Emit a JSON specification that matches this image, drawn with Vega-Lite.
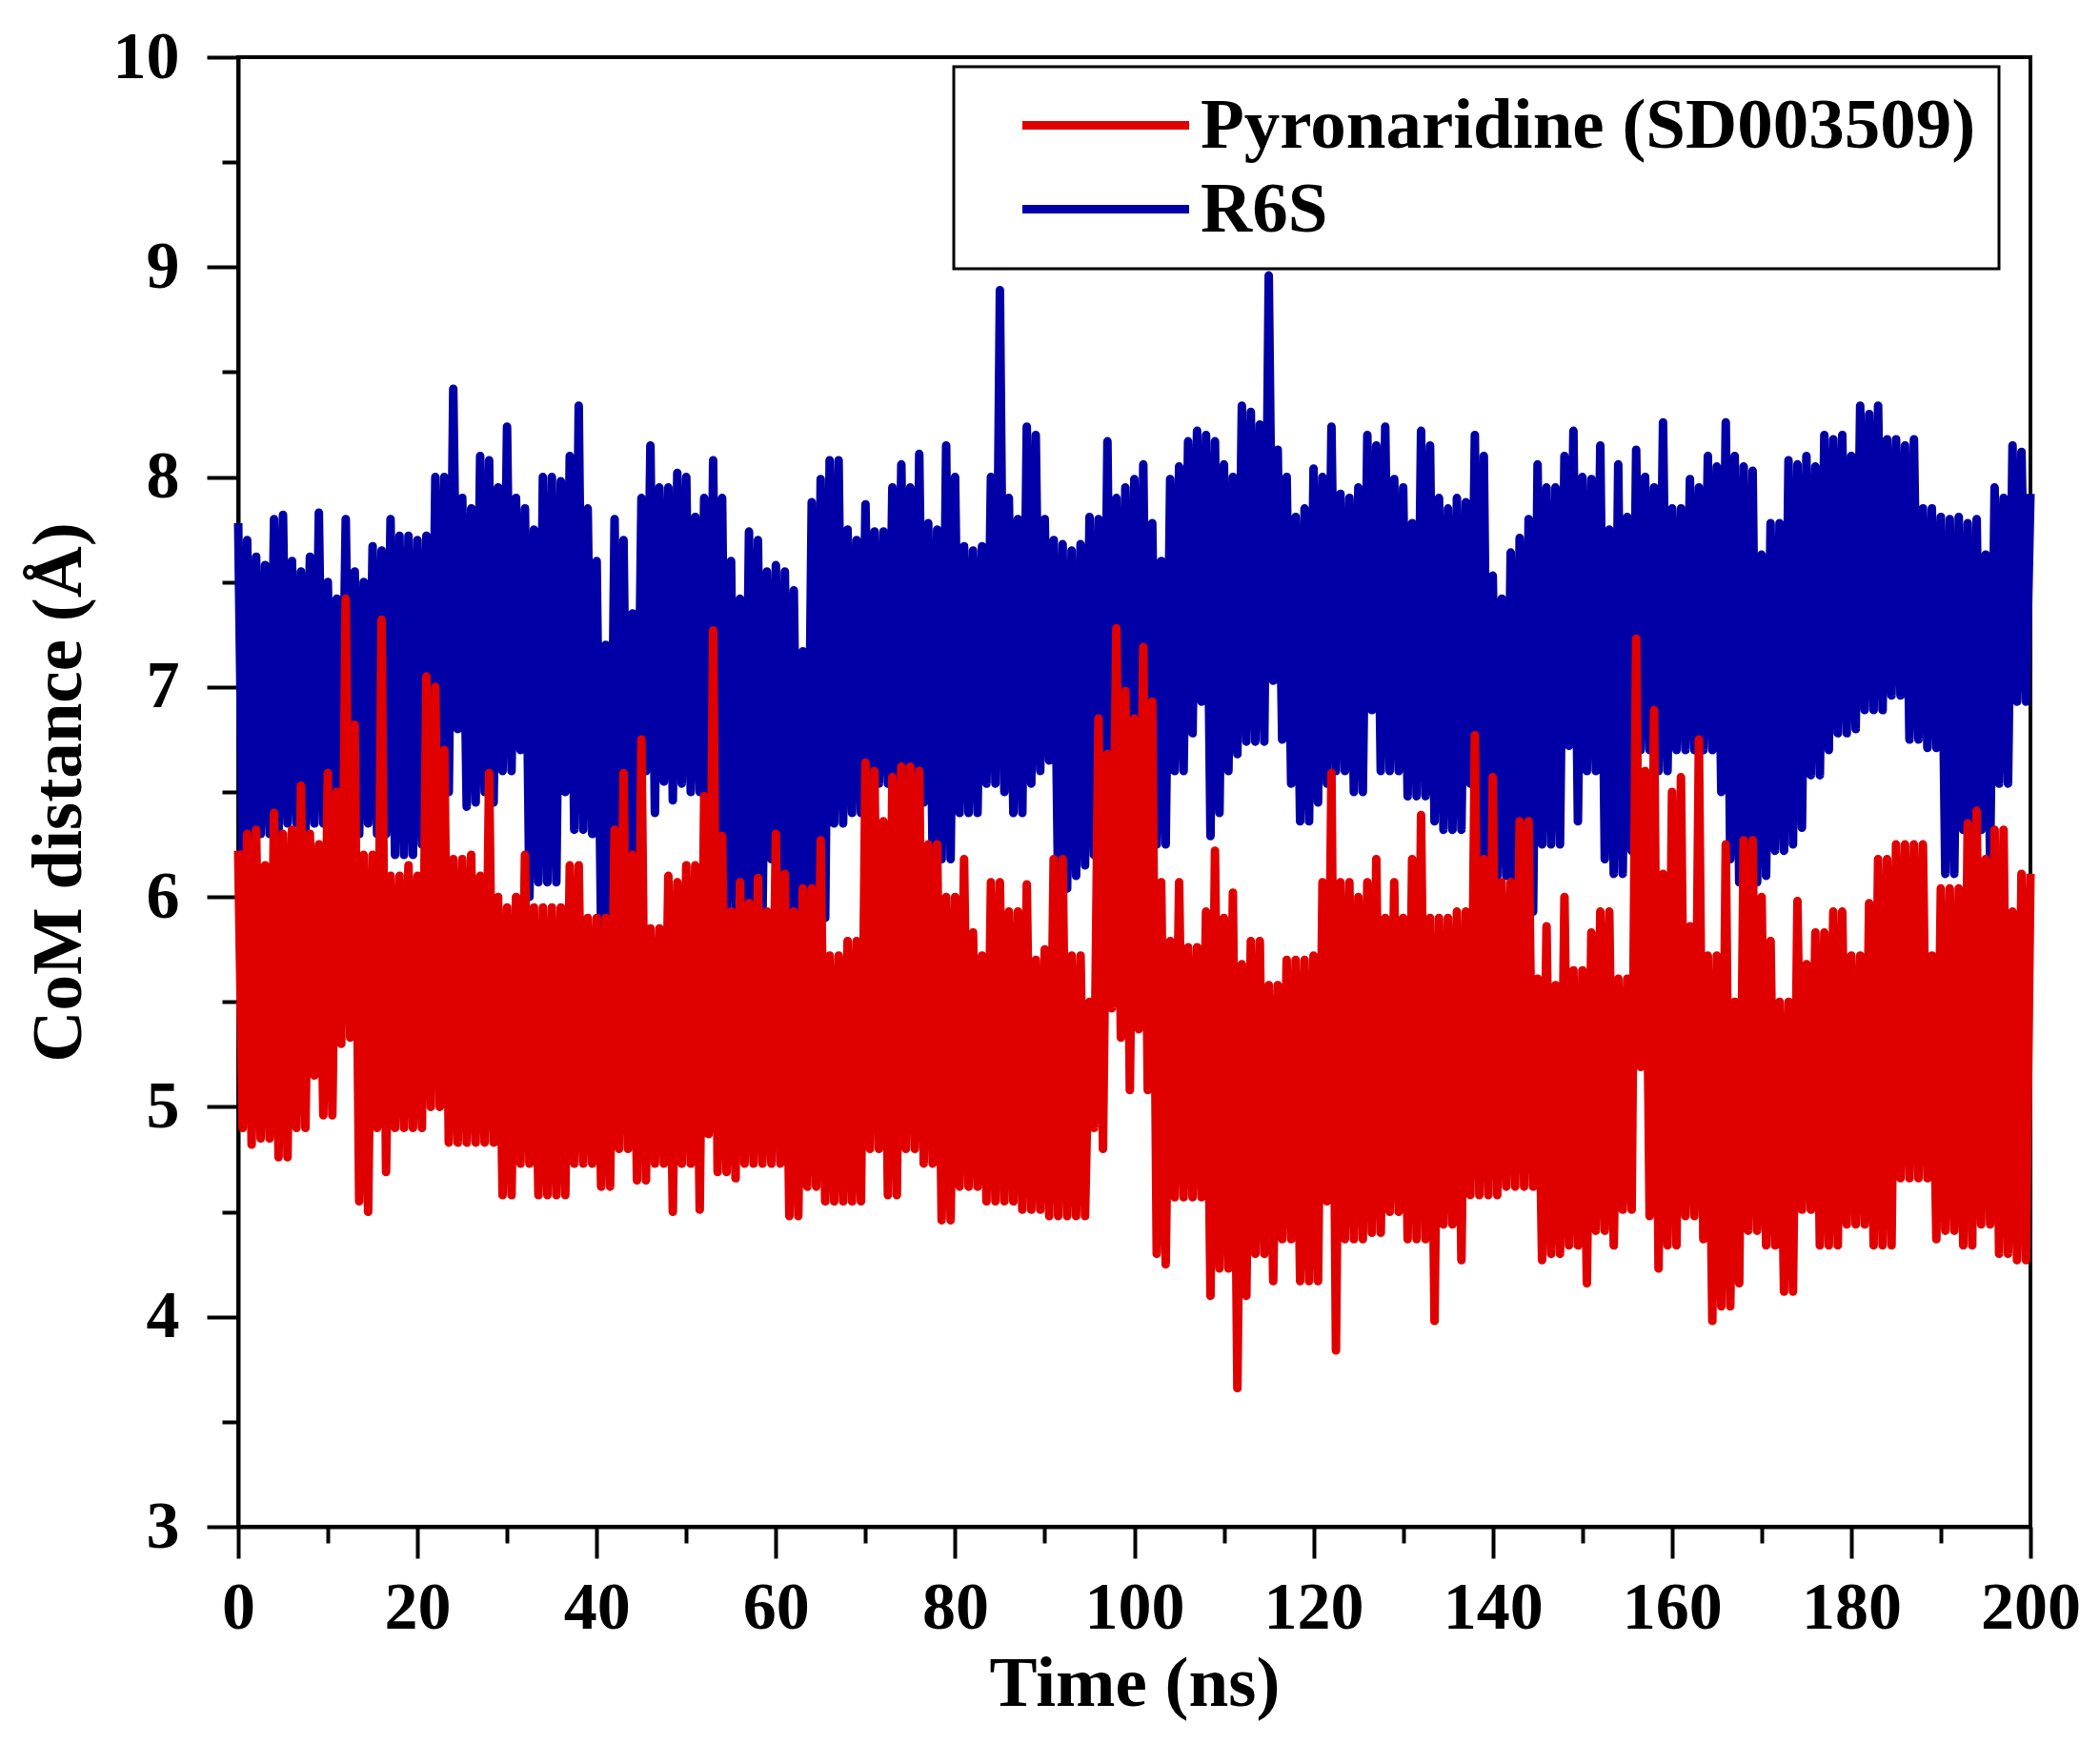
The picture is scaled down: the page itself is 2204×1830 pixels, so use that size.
{
  "$schema": "https://vega.github.io/schema/vega-lite/v6.json",
  "width": 1881,
  "height": 1542,
  "autosize": {"type": "none"},
  "padding": {"left": 250, "top": 60, "right": 73, "bottom": 228},
  "background": "white",
  "config": {
    "font": "Liberation Serif",
    "view": {"stroke": "black", "strokeWidth": 4},
    "axis": {
      "grid": false,
      "domainColor": "black",
      "domainWidth": 4,
      "tickColor": "black",
      "tickWidth": 4,
      "labelFont": "Liberation Serif",
      "labelFontWeight": "bold",
      "labelFontSize": 70,
      "labelColor": "black",
      "labelOverlap": false,
      "labelFlush": false,
      "titleFont": "Liberation Serif",
      "titleFontWeight": "bold",
      "titleFontSize": 75,
      "titleColor": "black"
    },
    "legend": {"strokeWidth": 3}
  },
  "data": {
    "values": [
      {"t":0,"p":6.22,"r":7.78},{"t":0.5,"p":4.9,"r":6.2},
      {"t":1,"p":6.3,"r":7.7},{"t":1.5,"p":4.82,"r":6.25},
      {"t":2,"p":6.32,"r":7.62},{"t":2.5,"p":4.85,"r":6.3},
      {"t":3,"p":6.15,"r":7.58},{"t":3.5,"p":4.85,"r":6.3},
      {"t":4,"p":6.4,"r":7.8},{"t":4.5,"p":4.76,"r":6.3},
      {"t":5,"p":6.3,"r":7.82},{"t":5.5,"p":4.76,"r":6.35},
      {"t":6,"p":6.32,"r":7.6},{"t":6.5,"p":4.9,"r":6.35},
      {"t":7,"p":6.53,"r":7.55},{"t":7.5,"p":4.9,"r":6.3},
      {"t":8,"p":6.3,"r":7.62},{"t":8.5,"p":5.15,"r":6.35},
      {"t":9,"p":6.25,"r":7.83},{"t":9.5,"p":4.96,"r":6.35},
      {"t":10,"p":6.59,"r":7.5},{"t":10.5,"p":4.96,"r":6.35},
      {"t":11,"p":6.5,"r":7.42},{"t":11.5,"p":5.3,"r":6.35},
      {"t":12,"p":7.42,"r":7.8},{"t":12.5,"p":5.33,"r":6.3},
      {"t":13,"p":6.82,"r":7.55},{"t":13.5,"p":4.55,"r":6.3},
      {"t":14,"p":6.2,"r":7.5},{"t":14.5,"p":4.5,"r":6.35},
      {"t":15,"p":6.2,"r":7.67},{"t":15.5,"p":4.9,"r":6.3},
      {"t":16,"p":7.32,"r":7.65},{"t":16.5,"p":4.69,"r":6.3},
      {"t":17,"p":6.1,"r":7.8},{"t":17.5,"p":4.9,"r":6.2},
      {"t":18,"p":6.1,"r":7.72},{"t":18.5,"p":4.9,"r":6.2},
      {"t":19,"p":6.15,"r":7.72},{"t":19.5,"p":4.9,"r":6.2},
      {"t":20,"p":6.1,"r":7.7},{"t":20.5,"p":4.9,"r":6.25},
      {"t":21,"p":7.05,"r":7.72},{"t":21.5,"p":5.0,"r":6.2},
      {"t":22,"p":7.0,"r":8.0},{"t":22.5,"p":5.0,"r":6.4},
      {"t":23,"p":6.7,"r":8.0},{"t":23.5,"p":4.83,"r":6.5},
      {"t":24,"p":6.18,"r":8.42},{"t":24.5,"p":4.83,"r":6.8},
      {"t":25,"p":6.18,"r":7.9},{"t":25.5,"p":4.83,"r":6.43},
      {"t":26,"p":6.2,"r":7.85},{"t":26.5,"p":4.83,"r":6.45},
      {"t":27,"p":6.1,"r":8.1},{"t":27.5,"p":4.83,"r":6.5},
      {"t":28,"p":6.59,"r":8.08},{"t":28.5,"p":4.83,"r":6.45},
      {"t":29,"p":6.0,"r":7.95},{"t":29.5,"p":4.58,"r":6.6},
      {"t":30,"p":5.95,"r":8.24},{"t":30.5,"p":4.58,"r":6.6},
      {"t":31,"p":6.0,"r":7.9},{"t":31.5,"p":4.73,"r":6.7},
      {"t":32,"p":6.2,"r":7.85},{"t":32.5,"p":4.73,"r":6.0},
      {"t":33,"p":5.95,"r":7.75},{"t":33.5,"p":4.58,"r":6.07},
      {"t":34,"p":5.95,"r":8.0},{"t":34.5,"p":4.58,"r":6.07},
      {"t":35,"p":5.95,"r":8.0},{"t":35.5,"p":4.58,"r":6.07},
      {"t":36,"p":5.95,"r":7.98},{"t":36.5,"p":4.58,"r":6.5},
      {"t":37,"p":6.15,"r":8.1},{"t":37.5,"p":4.73,"r":6.32},
      {"t":38,"p":6.15,"r":8.34},{"t":38.5,"p":4.73,"r":6.32},
      {"t":39,"p":5.9,"r":7.85},{"t":39.5,"p":4.73,"r":6.3},
      {"t":40,"p":5.9,"r":7.6},{"t":40.5,"p":4.62,"r":5.83},
      {"t":41,"p":5.9,"r":7.2},{"t":41.5,"p":4.62,"r":5.85},
      {"t":42,"p":6.32,"r":7.8},{"t":42.5,"p":4.8,"r":5.93},
      {"t":43,"p":6.59,"r":7.7},{"t":43.5,"p":4.8,"r":5.93},
      {"t":44,"p":6.2,"r":7.35},{"t":44.5,"p":4.65,"r":6.2},
      {"t":45,"p":6.75,"r":7.9},{"t":45.5,"p":4.65,"r":6.6},
      {"t":46,"p":5.85,"r":8.15},{"t":46.5,"p":4.73,"r":6.4},
      {"t":47,"p":5.85,"r":7.95},{"t":47.5,"p":4.73,"r":6.55},
      {"t":48,"p":6.1,"r":7.95},{"t":48.5,"p":4.5,"r":6.46},
      {"t":49,"p":6.07,"r":8.02},{"t":49.5,"p":4.73,"r":6.54},
      {"t":50,"p":6.15,"r":8.0},{"t":50.5,"p":4.73,"r":6.5},
      {"t":51,"p":6.15,"r":7.81},{"t":51.5,"p":4.51,"r":6.5},
      {"t":52,"p":6.48,"r":7.9},{"t":52.5,"p":4.87,"r":5.97},
      {"t":53,"p":7.27,"r":8.08},{"t":53.5,"p":4.69,"r":5.97},
      {"t":54,"p":6.29,"r":7.9},{"t":54.5,"p":4.69,"r":5.93},
      {"t":55,"p":5.93,"r":7.6},{"t":55.5,"p":4.66,"r":5.9},
      {"t":56,"p":6.07,"r":7.42},{"t":56.5,"p":4.73,"r":5.9},
      {"t":57,"p":5.97,"r":7.74},{"t":57.5,"p":4.73,"r":5.9},
      {"t":58,"p":6.09,"r":7.7},{"t":58.5,"p":4.73,"r":5.9},
      {"t":59,"p":5.93,"r":7.55},{"t":59.5,"p":4.73,"r":6.18},
      {"t":60,"p":6.3,"r":7.58},{"t":60.5,"p":4.73,"r":5.95},
      {"t":61,"p":6.11,"r":7.55},{"t":61.5,"p":4.48,"r":5.95},
      {"t":62,"p":5.93,"r":7.46},{"t":62.5,"p":4.48,"r":5.85},
      {"t":63,"p":6.04,"r":7.17},{"t":63.5,"p":4.62,"r":5.85},
      {"t":64,"p":6.04,"r":7.88},{"t":64.5,"p":4.62,"r":5.9},
      {"t":65,"p":6.27,"r":7.99},{"t":65.5,"p":4.55,"r":5.9},
      {"t":66,"p":5.72,"r":8.08},{"t":66.5,"p":4.55,"r":6.35},
      {"t":67,"p":5.72,"r":8.08},{"t":67.5,"p":4.55,"r":6.35},
      {"t":68,"p":5.79,"r":7.75},{"t":68.5,"p":4.55,"r":6.4},
      {"t":69,"p":5.79,"r":7.7},{"t":69.5,"p":4.55,"r":6.4},
      {"t":70,"p":6.64,"r":7.87},{"t":70.5,"p":4.8,"r":6.54},
      {"t":71,"p":6.6,"r":7.74},{"t":71.5,"p":4.8,"r":6.54},
      {"t":72,"p":6.36,"r":7.74},{"t":72.5,"p":4.58,"r":6.54},
      {"t":73,"p":6.57,"r":7.95},{"t":73.5,"p":4.58,"r":6.54},
      {"t":74,"p":6.62,"r":8.06},{"t":74.5,"p":4.8,"r":6.45},
      {"t":75,"p":6.62,"r":7.95},{"t":75.5,"p":4.8,"r":6.45},
      {"t":76,"p":6.6,"r":8.11},{"t":76.5,"p":4.73,"r":6.45},
      {"t":77,"p":6.25,"r":7.78},{"t":77.5,"p":4.73,"r":6.18},
      {"t":78,"p":6.25,"r":7.75},{"t":78.5,"p":4.46,"r":6.18},
      {"t":79,"p":6.0,"r":8.15},{"t":79.5,"p":4.46,"r":6.18},
      {"t":80,"p":6.0,"r":8.0},{"t":80.5,"p":4.62,"r":6.4},
      {"t":81,"p":6.18,"r":7.67},{"t":81.5,"p":4.62,"r":6.4},
      {"t":82,"p":5.83,"r":7.65},{"t":82.5,"p":4.62,"r":6.4},
      {"t":83,"p":5.72,"r":7.67},{"t":83.5,"p":4.55,"r":6.54},
      {"t":84,"p":6.07,"r":8.0},{"t":84.5,"p":4.55,"r":6.54},
      {"t":85,"p":6.07,"r":8.89},{"t":85.5,"p":4.55,"r":6.5},
      {"t":86,"p":5.93,"r":7.9},{"t":86.5,"p":4.55,"r":6.4},
      {"t":87,"p":5.93,"r":7.8},{"t":87.5,"p":4.51,"r":6.4},
      {"t":88,"p":6.06,"r":8.24},{"t":88.5,"p":4.51,"r":6.54},
      {"t":89,"p":5.7,"r":8.2},{"t":89.5,"p":4.51,"r":6.6},
      {"t":90,"p":5.75,"r":7.8},{"t":90.5,"p":4.48,"r":6.65},
      {"t":91,"p":6.18,"r":7.7},{"t":91.5,"p":4.48,"r":6.04},
      {"t":92,"p":6.18,"r":7.68},{"t":92.5,"p":4.48,"r":6.04},
      {"t":93,"p":5.72,"r":7.65},{"t":93.5,"p":4.48,"r":6.1},
      {"t":94,"p":5.72,"r":7.68},{"t":94.5,"p":4.48,"r":6.15},
      {"t":95,"p":5.5,"r":7.81},{"t":95.5,"p":4.9,"r":6.2},
      {"t":96,"p":6.85,"r":7.8},{"t":96.5,"p":4.8,"r":6.2},
      {"t":97,"p":6.68,"r":8.17},{"t":97.5,"p":5.47,"r":6.1},
      {"t":98,"p":7.28,"r":7.9},{"t":98.5,"p":5.33,"r":6.1},
      {"t":99,"p":6.98,"r":7.95},{"t":99.5,"p":5.08,"r":6.1},
      {"t":100,"p":6.85,"r":7.99},{"t":100.5,"p":5.37,"r":6.1},
      {"t":101,"p":7.19,"r":8.06},{"t":101.5,"p":5.08,"r":6.2},
      {"t":102,"p":6.93,"r":7.78},{"t":102.5,"p":4.3,"r":6.25},
      {"t":103,"p":6.07,"r":7.6},{"t":103.5,"p":4.25,"r":6.25},
      {"t":104,"p":5.79,"r":7.99},{"t":104.5,"p":4.57,"r":6.6},
      {"t":105,"p":6.07,"r":8.05},{"t":105.5,"p":4.57,"r":6.6},
      {"t":106,"p":5.76,"r":8.17},{"t":106.5,"p":4.57,"r":6.78},
      {"t":107,"p":5.76,"r":8.22},{"t":107.5,"p":4.57,"r":6.93},
      {"t":108,"p":5.93,"r":8.2},{"t":108.5,"p":4.1,"r":6.29},
      {"t":109,"p":6.22,"r":8.17},{"t":109.5,"p":4.23,"r":6.4},
      {"t":110,"p":5.9,"r":8.06},{"t":110.5,"p":4.23,"r":6.6},
      {"t":111,"p":6.02,"r":8.0},{"t":111.5,"p":3.66,"r":6.68},
      {"t":112,"p":5.68,"r":8.34},{"t":112.5,"p":4.1,"r":6.74},
      {"t":113,"p":5.79,"r":8.31},{"t":113.5,"p":4.3,"r":6.74},
      {"t":114,"p":5.79,"r":8.25},{"t":114.5,"p":4.3,"r":6.74},
      {"t":115,"p":5.58,"r":8.96},{"t":115.5,"p":4.17,"r":7.03},
      {"t":116,"p":5.58,"r":8.13},{"t":116.5,"p":4.37,"r":6.75},
      {"t":117,"p":5.7,"r":8.0},{"t":117.5,"p":4.37,"r":6.54},
      {"t":118,"p":5.7,"r":7.81},{"t":118.5,"p":4.17,"r":6.36},
      {"t":119,"p":5.7,"r":7.85},{"t":119.5,"p":4.17,"r":6.36},
      {"t":120,"p":5.72,"r":8.04},{"t":120.5,"p":4.17,"r":6.45},
      {"t":121,"p":6.07,"r":8.0},{"t":121.5,"p":4.55,"r":6.54},
      {"t":122,"p":6.59,"r":8.24},{"t":122.5,"p":3.84,"r":6.6},
      {"t":123,"p":6.07,"r":7.92},{"t":123.5,"p":4.37,"r":6.6},
      {"t":124,"p":6.07,"r":7.9},{"t":124.5,"p":4.37,"r":6.5},
      {"t":125,"p":6.0,"r":7.95},{"t":125.5,"p":4.37,"r":6.5},
      {"t":126,"p":6.07,"r":8.2},{"t":126.5,"p":4.4,"r":6.89},
      {"t":127,"p":6.18,"r":8.15},{"t":127.5,"p":4.4,"r":6.6},
      {"t":128,"p":5.9,"r":8.24},{"t":128.5,"p":4.5,"r":6.6},
      {"t":129,"p":6.07,"r":7.99},{"t":129.5,"p":4.5,"r":6.6},
      {"t":130,"p":5.9,"r":7.95},{"t":130.5,"p":4.37,"r":6.48},
      {"t":131,"p":6.18,"r":7.78},{"t":131.5,"p":4.37,"r":6.48},
      {"t":132,"p":6.39,"r":8.22},{"t":132.5,"p":4.37,"r":6.48},
      {"t":133,"p":5.9,"r":8.15},{"t":133.5,"p":3.98,"r":6.36},
      {"t":134,"p":5.9,"r":7.9},{"t":134.5,"p":4.44,"r":6.32},
      {"t":135,"p":5.9,"r":7.85},{"t":135.5,"p":4.44,"r":6.32},
      {"t":136,"p":5.93,"r":7.9},{"t":136.5,"p":4.27,"r":6.32},
      {"t":137,"p":5.93,"r":7.88},{"t":137.5,"p":4.58,"r":6.54},
      {"t":138,"p":6.77,"r":8.2},{"t":138.5,"p":4.58,"r":6.1},
      {"t":139,"p":6.18,"r":8.1},{"t":139.5,"p":4.58,"r":6.1},
      {"t":140,"p":6.57,"r":7.53},{"t":140.5,"p":4.58,"r":6.1},
      {"t":141,"p":6.07,"r":7.42},{"t":141.5,"p":4.62,"r":6.1},
      {"t":142,"p":6.07,"r":7.64},{"t":142.5,"p":4.62,"r":5.93},
      {"t":143,"p":6.36,"r":7.71},{"t":143.5,"p":4.62,"r":5.93},
      {"t":144,"p":6.36,"r":7.8},{"t":144.5,"p":4.62,"r":5.93},
      {"t":145,"p":5.61,"r":8.06},{"t":145.5,"p":4.27,"r":6.25},
      {"t":146,"p":5.86,"r":7.95},{"t":146.5,"p":4.3,"r":6.25},
      {"t":147,"p":5.58,"r":7.95},{"t":147.5,"p":4.3,"r":6.25},
      {"t":148,"p":6.0,"r":8.1},{"t":148.5,"p":4.34,"r":6.72},
      {"t":149,"p":5.65,"r":8.22},{"t":149.5,"p":4.34,"r":6.36},
      {"t":150,"p":5.65,"r":8.0},{"t":150.5,"p":4.16,"r":6.6},
      {"t":151,"p":5.83,"r":7.99},{"t":151.5,"p":4.41,"r":6.6},
      {"t":152,"p":5.93,"r":8.15},{"t":152.5,"p":4.41,"r":6.18},
      {"t":153,"p":5.93,"r":7.75},{"t":153.5,"p":4.34,"r":6.11},
      {"t":154,"p":5.61,"r":8.06},{"t":154.5,"p":4.51,"r":6.11},
      {"t":155,"p":5.61,"r":7.81},{"t":155.5,"p":4.51,"r":6.22},
      {"t":156,"p":7.23,"r":8.13},{"t":156.5,"p":5.19,"r":6.7},
      {"t":157,"p":6.6,"r":8.0},{"t":157.5,"p":4.48,"r":6.7},
      {"t":158,"p":6.89,"r":7.95},{"t":158.5,"p":4.23,"r":6.6},
      {"t":159,"p":6.11,"r":8.26},{"t":159.5,"p":4.34,"r":6.6},
      {"t":160,"p":6.5,"r":7.85},{"t":160.5,"p":4.34,"r":6.7},
      {"t":161,"p":6.57,"r":7.85},{"t":161.5,"p":4.48,"r":6.7},
      {"t":162,"p":5.86,"r":7.99},{"t":162.5,"p":4.48,"r":6.7},
      {"t":163,"p":6.75,"r":7.95},{"t":163.5,"p":4.37,"r":6.7},
      {"t":164,"p":5.72,"r":8.1},{"t":164.5,"p":3.98,"r":6.7},
      {"t":165,"p":5.72,"r":8.05},{"t":165.5,"p":4.05,"r":6.5},
      {"t":166,"p":6.25,"r":8.26},{"t":166.5,"p":4.05,"r":6.18},
      {"t":167,"p":5.5,"r":8.1},{"t":167.5,"p":4.16,"r":6.07},
      {"t":168,"p":6.27,"r":8.05},{"t":168.5,"p":4.41,"r":6.07},
      {"t":169,"p":6.27,"r":8.03},{"t":169.5,"p":4.41,"r":6.07},
      {"t":170,"p":6.0,"r":7.63},{"t":170.5,"p":4.34,"r":6.1},
      {"t":171,"p":5.79,"r":7.78},{"t":171.5,"p":4.34,"r":6.22},
      {"t":172,"p":5.5,"r":7.78},{"t":172.5,"p":4.12,"r":6.22},
      {"t":173,"p":5.5,"r":8.08},{"t":173.5,"p":4.12,"r":6.25},
      {"t":174,"p":5.98,"r":8.06},{"t":174.5,"p":4.51,"r":6.33},
      {"t":175,"p":5.68,"r":8.1},{"t":175.5,"p":4.51,"r":6.58},
      {"t":176,"p":5.83,"r":8.05},{"t":176.5,"p":4.34,"r":6.58},
      {"t":177,"p":5.83,"r":8.2},{"t":177.5,"p":4.34,"r":6.7},
      {"t":178,"p":5.93,"r":8.18},{"t":178.5,"p":4.34,"r":6.78},
      {"t":179,"p":5.93,"r":8.2},{"t":179.5,"p":4.44,"r":6.78},
      {"t":180,"p":5.72,"r":8.1},{"t":180.5,"p":4.44,"r":6.8},
      {"t":181,"p":5.72,"r":8.34},{"t":181.5,"p":4.44,"r":6.89},
      {"t":182,"p":5.97,"r":8.3},{"t":182.5,"p":4.34,"r":6.89},
      {"t":183,"p":6.18,"r":8.34},{"t":183.5,"p":4.34,"r":6.89},
      {"t":184,"p":6.18,"r":8.18},{"t":184.5,"p":4.34,"r":6.96},
      {"t":185,"p":6.25,"r":8.18},{"t":185.5,"p":4.66,"r":6.96},
      {"t":186,"p":6.25,"r":8.15},{"t":186.5,"p":4.66,"r":6.75},
      {"t":187,"p":6.25,"r":8.18},{"t":187.5,"p":4.66,"r":6.75},
      {"t":188,"p":6.25,"r":7.85},{"t":188.5,"p":4.66,"r":6.71},
      {"t":189,"p":5.72,"r":7.85},{"t":189.5,"p":4.37,"r":6.71},
      {"t":190,"p":6.04,"r":7.81},{"t":190.5,"p":4.41,"r":6.11},
      {"t":191,"p":6.04,"r":7.8},{"t":191.5,"p":4.41,"r":6.11},
      {"t":192,"p":6.04,"r":7.81},{"t":192.5,"p":4.34,"r":6.32},
      {"t":193,"p":6.35,"r":7.78},{"t":193.5,"p":4.34,"r":6.32},
      {"t":194,"p":6.41,"r":7.8},{"t":194.5,"p":4.44,"r":6.32},
      {"t":195,"p":6.18,"r":7.63},{"t":195.5,"p":4.44,"r":6.18},
      {"t":196,"p":6.32,"r":7.95},{"t":196.5,"p":4.3,"r":6.54},
      {"t":197,"p":6.32,"r":7.9},{"t":197.5,"p":4.3,"r":6.54},
      {"t":198,"p":5.93,"r":8.15},{"t":198.5,"p":4.27,"r":6.93},
      {"t":199,"p":6.11,"r":8.12},{"t":199.5,"p":4.27,"r":6.93},
      {"t":200,"p":6.11,"r":7.92}
    ]
  },
  "encoding": {
    "x": {
      "field": "t",
      "type": "quantitative",
      "scale": {"domain": [0, 200], "nice": false},
      "axis": {
        "title": "Time (ns)",
        "values": [0, 10, 20, 30, 40, 50, 60, 70, 80, 90, 100, 110, 120, 130, 140, 150, 160, 170, 180, 190, 200],
        "labelExpr": "datum.value % 20 === 0 ? format(datum.value, 'd') : ''",
        "tickSize": {"condition": {"test": "datum.value % 20 === 0", "value": 33}, "value": 17},
        "labelPadding": 18,
        "titlePadding": 8
      }
    }
  },
  "layer": [
    {
      "mark": {"type": "line", "strokeWidth": 9, "strokeJoin": "round"},
      "encoding": {
        "y": {
          "field": "r",
          "type": "quantitative",
          "scale": {"domain": [3, 10], "nice": false, "zero": false},
          "axis": {
            "title": "CoM distance (Å)",
            "values": [3, 3.5, 4, 4.5, 5, 5.5, 6, 6.5, 7, 7.5, 8, 8.5, 9, 9.5, 10],
            "labelExpr": "datum.value % 1 === 0 ? format(datum.value, 'd') : ''",
            "tickSize": {"condition": {"test": "datum.value % 1 === 0", "value": 33}, "value": 17},
            "labelPadding": 29,
            "titlePadding": 18
          }
        },
        "color": {
          "datum": "R6S",
          "type": "nominal",
          "scale": {"domain": ["Pyronaridine (SD003509)", "R6S"], "range": ["#e00000", "#0000a6"]},
          "legend": {
            "title": null,
            "orient": "none",
            "legendX": 751,
            "legendY": 10,
            "direction": "vertical",
            "symbolType": "M-3.5,0L3.5,0",
            "symbolSize": 2500,
            "symbolStrokeWidth": 9,
            "symbolOffset": 98,
            "labelOffset": 62,
            "labelFont": "Liberation Serif",
            "labelFontWeight": "bold",
            "labelFontSize": 75,
            "labelColor": "black",
            "labelLimit": 0,
            "padding": 24,
            "rowPadding": 12,
            "strokeColor": "black",
            "fillColor": "white"
          }
        }
      }
    },
    {
      "mark": {"type": "line", "strokeWidth": 9, "strokeJoin": "round"},
      "encoding": {
        "y": {
          "field": "p",
          "type": "quantitative",
          "axis": {
            "title": "CoM distance (Å)",
            "values": [3, 3.5, 4, 4.5, 5, 5.5, 6, 6.5, 7, 7.5, 8, 8.5, 9, 9.5, 10],
            "labelExpr": "datum.value % 1 === 0 ? format(datum.value, 'd') : ''",
            "tickSize": {"condition": {"test": "datum.value % 1 === 0", "value": 33}, "value": 17},
            "labelPadding": 29,
            "titlePadding": 18
          }
        },
        "color": {"datum": "Pyronaridine (SD003509)", "type": "nominal"}
      }
    }
  ]
}
